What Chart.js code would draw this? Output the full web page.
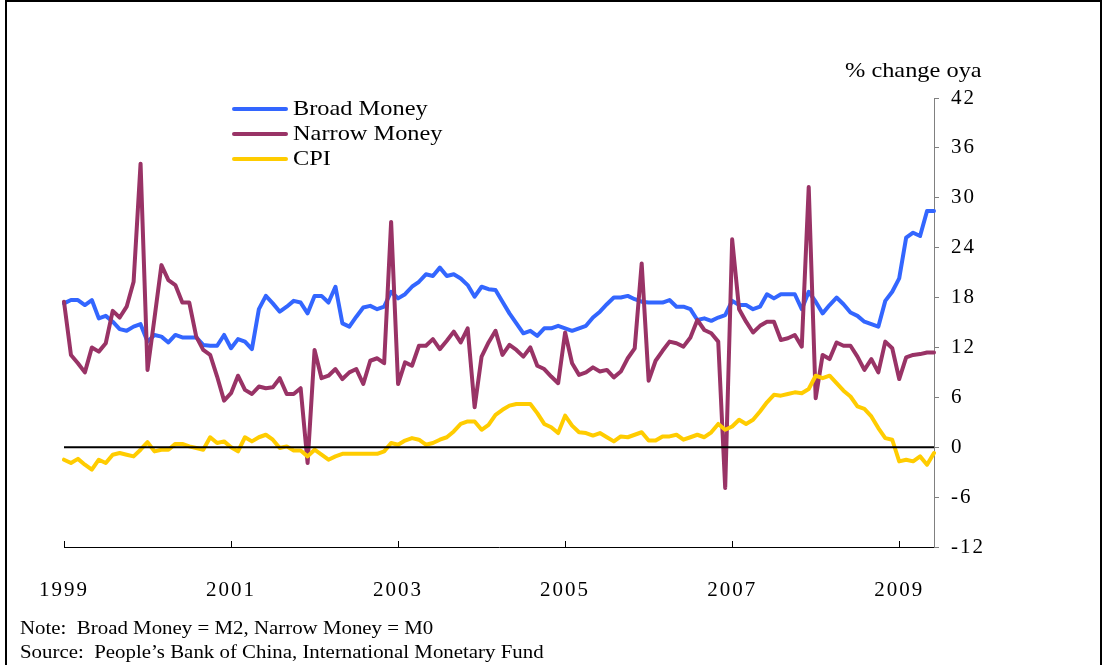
<!DOCTYPE html>
<html>
<head>
<meta charset="utf-8">
<title>China: money growth and CPI</title>
<script src="https://cdn.jsdelivr.net/npm/chart.js@4.4.1/dist/chart.umd.min.js"></script>
<style>
  body { margin: 0; background: #fff; }
  #page { position: relative; width: 1104px; height: 665px; overflow: hidden;
          font-family: "Liberation Serif", "Times New Roman", serif; color: #000; }
  #frame { position: absolute; left: 5px; top: 0; width: 1097px; height: 700px;
           border: 2px solid #000; box-sizing: border-box; }
  #chartBox { position: absolute; left: 0; top: 0; width: 1104px; height: 665px; }
  /* the source picture is stretched sideways, so text is widened the same way */
  .txt { position: absolute; white-space: nowrap; font-size: 21px; line-height: 21px;
         transform: scaleX(1.16); transform-origin: left top; }
  .key { position: absolute; left: 232px; width: 56px; height: 4px; border-radius: 2px; }
  .note { position: absolute; left: 20px; white-space: nowrap; font-size: 18px; line-height: 18px;
          transform: scaleX(1.16); transform-origin: left top; }
</style>
</head>
<body>
<div id="page">
  <div id="frame"></div>
  <div id="chartBox"><canvas id="moneyChart"></canvas></div>
  <div class="txt" style="left:845px; top:60px;">% change oya</div>
  <div id="legendBox"></div>
  <div class="note" style="top:619px;">Note:&nbsp; Broad Money = M2, Narrow Money = M0</div>
  <div class="note" style="top:643px;">Source:&nbsp; People’s Bank of China, International Monetary Fund</div>
</div>
<script>
// monthly observations, Jan 1999 .. Jun 2009
const monthNames = ['Jan', 'Feb', 'Mar', 'Apr', 'May', 'Jun', 'Jul', 'Aug', 'Sep', 'Oct', 'Nov', 'Dec'];
const months = [];
for (let y = 1999; y <= 2009; y++) {
    for (let m = 0; m < 12; m++) {
        if (months.length < 126) months.push(monthNames[m] + ' ' + y);
    }
}

const yearLabels = ['1999', '2001', '2003', '2005', '2007', '2009'];
const yearTickIndex = [0, 24, 48, 72, 96, 120];

const broadMoney = [
    17.3, 17.7, 17.7, 17.1, 17.7, 15.5, 15.8, 15.1, 14.2, 14.0, 14.5, 14.8,
    12.7, 13.5, 13.3, 12.6, 13.5, 13.2, 13.2, 13.2, 12.3, 12.2, 12.2, 13.5,
    11.9, 13.0, 12.7, 11.8, 16.6, 18.2, 17.3, 16.3, 16.9, 17.6, 17.4, 16.1,
    18.2, 18.2, 17.4, 19.3, 14.9, 14.5, 15.7, 16.8, 17.0, 16.6, 16.9, 18.7,
    17.9, 18.4, 19.3, 19.9, 20.8, 20.6, 21.6, 20.6, 20.8, 20.3, 19.5, 18.1,
    19.3, 19.0, 18.9, 17.5, 16.1, 14.9, 13.7, 14.0, 13.4, 14.3, 14.3, 14.6,
    14.3, 14.0, 14.3, 14.6, 15.6, 16.3, 17.2, 18.0, 18.0, 18.2, 17.8, 17.5,
    17.4, 17.4, 17.4, 17.7, 16.9, 16.9, 16.6, 15.3, 15.5, 15.2, 15.6, 15.9,
    17.6, 17.1, 17.1, 16.6, 16.9, 18.4, 17.9, 18.4, 18.4, 18.4, 16.6, 18.7,
    17.5, 16.1, 17.1, 18.0, 17.2, 16.2, 15.8, 15.1, 14.8, 14.5, 17.6, 18.7,
    20.3, 25.2, 25.8, 25.4, 28.4, 28.4
];

const narrowMoney = [
    17.5, 11.1, 10.1, 9.0, 12.0, 11.5, 12.5, 16.4, 15.6, 16.9, 19.9, 34.1,
    9.3, 15.5, 21.9, 20.1, 19.5, 17.4, 17.4, 13.3, 11.7, 11.1, 8.5, 5.6,
    6.5, 8.6, 6.9, 6.4, 7.3, 7.1, 7.2, 8.3, 6.4, 6.4, 7.1, -1.9,
    11.7, 8.3, 8.6, 9.4, 8.2, 9.0, 9.4, 7.6, 10.4, 10.7, 10.1, 27.1,
    7.6, 10.2, 9.8, 12.2, 12.2, 13.0, 11.8, 12.8, 13.9, 12.6, 14.3, 4.8,
    10.9, 12.6, 14.0, 11.1, 12.3, 11.7, 10.9, 12.0, 9.8, 9.4, 8.5, 7.7,
    13.8, 10.1, 8.7, 9.0, 9.6, 9.1, 9.3, 8.4, 9.1, 10.7, 11.9, 22.1,
    8.0, 10.4, 11.6, 12.7, 12.5, 12.1, 13.2, 15.3, 14.1, 13.7, 12.7, -4.9,
    25.0, 16.6, 15.1, 13.8, 14.6, 15.1, 15.1, 12.9, 13.1, 13.5, 12.1, 31.3,
    5.9, 11.1, 10.6, 12.6, 12.2, 12.2, 10.9, 9.3, 10.6, 9.0, 12.7, 11.9,
    8.2, 10.8, 11.1, 11.2, 11.4, 11.4
];

const cpi = [
    -1.5, -1.9, -1.4, -2.1, -2.7, -1.5, -1.9, -0.9, -0.7, -0.9, -1.1, -0.3,
    0.6, -0.5, -0.3, -0.3, 0.4, 0.4, 0.1, -0.1, -0.3, 1.2, 0.5, 0.7,
    0.0, -0.5, 1.2, 0.7, 1.2, 1.5, 0.9, -0.1, 0.1, -0.4, -0.4, -1.1,
    -0.3, -0.9, -1.5, -1.1, -0.8, -0.8, -0.8, -0.8, -0.8, -0.8, -0.5, 0.5,
    0.3, 0.8, 1.1, 0.9, 0.3, 0.5, 0.9, 1.2, 1.9, 2.8, 3.1, 3.1,
    2.1, 2.7, 3.9, 4.5, 5.0, 5.2, 5.2, 5.2, 4.1, 2.8, 2.4, 1.7,
    3.8, 2.6, 1.8, 1.7, 1.4, 1.7, 1.2, 0.7, 1.3, 1.2, 1.5, 1.8,
    0.8, 0.8, 1.3, 1.3, 1.5, 0.9, 1.2, 1.5, 1.2, 1.8, 2.8, 2.1,
    2.5, 3.3, 2.8, 3.3, 4.3, 5.4, 6.3, 6.2, 6.4, 6.6, 6.5, 7.0,
    8.6, 8.3, 8.6, 7.7, 6.8, 6.1, 4.9, 4.6, 3.7, 2.3, 1.1, 0.9,
    -1.7, -1.5, -1.7, -1.1, -2.1, -0.7
];

const fontFamily = '"Liberation Serif", "Times New Roman", serif';

// zero line on top of the series, x-axis tick marks pointing inward
const axisExtras = {
    id: 'axisExtras',
    beforeDraw(chart) {
        chart.ctx.letterSpacing = '2px';
    },
    afterDatasetsDraw(chart) {
        const { ctx, chartArea, scales } = chart;
        const y0 = scales.y.getPixelForValue(0);
        ctx.save();
        ctx.strokeStyle = '#000';
        ctx.lineWidth = 2;
        ctx.beginPath();
        ctx.moveTo(chartArea.left, y0);
        ctx.lineTo(chartArea.right, y0);
        ctx.stroke();
        ctx.restore();
    },
    afterDraw(chart) {
        const { ctx, chartArea, scales } = chart;
        ctx.save();
        ctx.strokeStyle = '#000';
        ctx.lineWidth = 1;
        scales.x.ticks.forEach(t => {
            const x = Math.round(scales.x.getPixelForValue(t.value)) + 0.5;
            ctx.beginPath();
            ctx.moveTo(x, chartArea.bottom);
            ctx.lineTo(x, chartArea.bottom - 6);
            ctx.stroke();
        });
        ctx.restore();
    }
};

const ctx = document.getElementById('moneyChart').getContext('2d');
const chart = new Chart(ctx, {
    type: 'line',
    data: {
        labels: months,
        datasets: [
            { label: 'Broad Money', data: broadMoney, borderColor: '#3366FF', order: 2 },
            { label: 'Narrow Money', data: narrowMoney, borderColor: '#993366', order: 1 },
            { label: 'CPI', data: cpi, borderColor: '#FFCC00', order: 0 }
        ]
    },
    options: {
        responsive: true,
        maintainAspectRatio: false,
        animation: false,
        layout: { padding: { left: 64, top: 98, right: 110, bottom: 68 } },
        elements: {
            point: { radius: 0 },
            line: { borderWidth: 4, tension: 0, fill: false, borderJoinStyle: 'round', borderCapStyle: 'round' }
        },
        plugins: {
            legend: { display: false },
            tooltip: { enabled: false }
        },
        scales: {
            x: {
                type: 'category',
                offset: false,
                grid: { display: false },
                border: { display: true, color: '#000', width: 1 },
                ticks: {
                    autoSkip: false,
                    maxRotation: 0,
                    padding: 23,
                    color: '#000',
                    font: { family: fontFamily, size: 21 },
                    callback: (v, i) => yearLabels[i]
                },
                afterBuildTicks: scale => {
                    scale.ticks = yearTickIndex.map(v => ({ value: v }));
                },
                afterFit: scale => { scale.height = 50; }
            },
            y: {
                position: 'right',
                min: -12,
                max: 42,
                grid: { drawOnChartArea: false, drawTicks: true, tickLength: 5, color: '#808080', tickColor: '#808080' },
                border: { color: '#808080', width: 1 },
                ticks: {
                    stepSize: 6,
                    padding: 12,
                    color: '#000',
                    font: { family: fontFamily, size: 21 },
                    callback: v => String(v)
                },
                afterFit: scale => { scale.width = 60; }
            }
        }
    },
    plugins: [axisExtras]
});

// legend built from the datasets
const legendBox = document.getElementById('legendBox');
const legendRows = [109, 134, 159];
chart.data.datasets.forEach((ds, i) => {
    const key = document.createElement('div');
    key.className = 'key';
    key.style.top = (legendRows[i] - 2) + 'px';
    key.style.background = ds.borderColor;
    legendBox.appendChild(key);

    const lbl = document.createElement('div');
    lbl.className = 'txt';
    lbl.style.left = '293px';
    lbl.style.top = (legendRows[i] - 11) + 'px';
    lbl.textContent = ds.label;
    legendBox.appendChild(lbl);
});
</script>
</body>
</html>
